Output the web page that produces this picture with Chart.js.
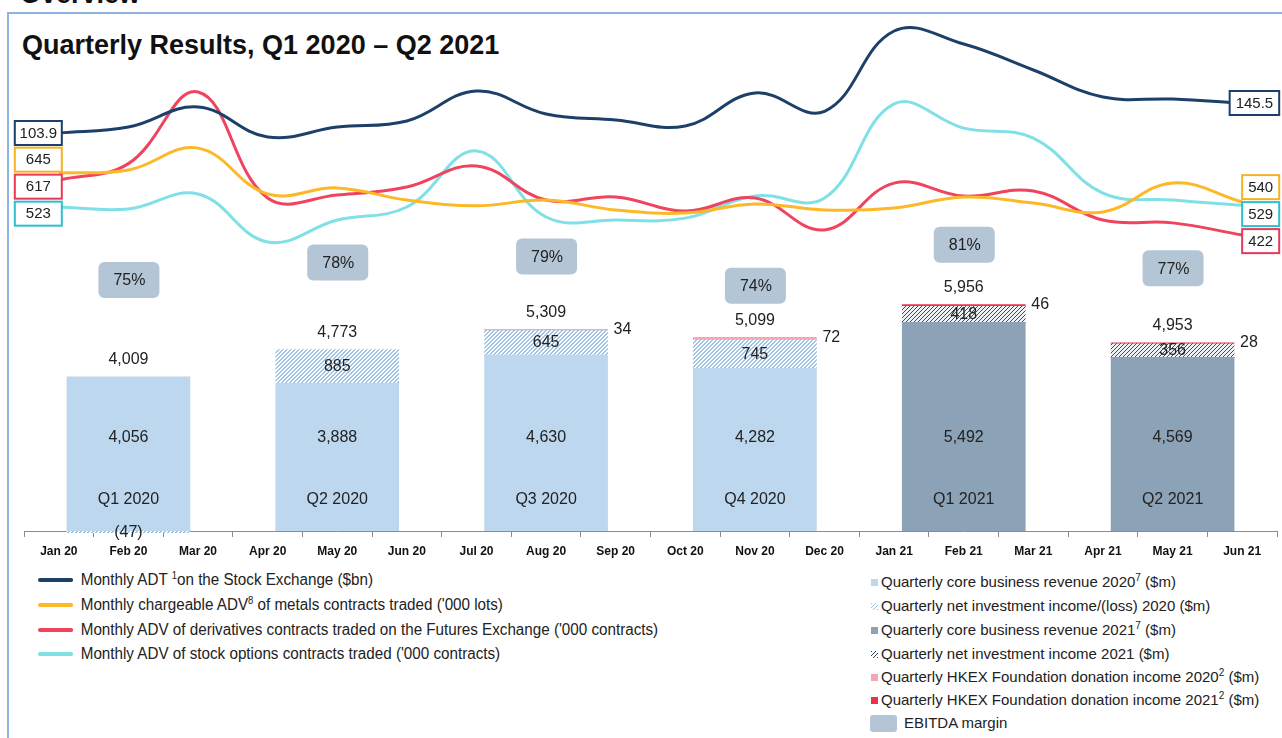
<!DOCTYPE html>
<html>
<head>
<meta charset="utf-8">
<script src="https://cdn.jsdelivr.net/npm/chart.js@4.4.1/dist/chart.umd.min.js"></script>
<style>
  html, body { margin: 0; padding: 0; background: #fff; width: 1282px; height: 738px; overflow: hidden; }
  body { font-family: 'Liberation Sans', Arial, sans-serif; color: #222; position: relative; }
  #frame { position: absolute; left: 7px; top: 12px; width: 1300px; height: 760px; border-left: 2px solid #8db3e2; border-top: 2px solid #8db3e2; }
  #overview { position: absolute; left: 20px; top: -19px; font: bold 27px/1 'Liberation Sans', Arial, sans-serif; color: #111; }
  #title { position: absolute; left: 22px; top: 32px; font: bold 27px/1 'Liberation Sans', Arial, sans-serif; color: #111; }
  #chartBox { position: absolute; left: 0; top: 0; width: 1282px; height: 567px; }
  .row { position: absolute; height: 20px; line-height: 20px; white-space: nowrap; }
  .left { left: 38px; font-size: 16px; transform: scaleX(0.95); transform-origin: 0 0; }
  .right { left: 871px; font-size: 15px; }
  .ln { display: inline-block; width: 37px; height: 4px; border-radius: 2px; vertical-align: middle; margin-right: 8px; position: relative; top: -1px; }
  .sq { display: inline-block; width: 7px; height: 7px; vertical-align: middle; margin-right: 3px; position: relative; top: -1px; }
  sup { font-size: 10px; vertical-align: 6px; line-height: 0; }
</style>
</head>
<body>
<div id="frame"></div>
<div id="overview">Overview</div>
<div id="title">Quarterly Results, Q1 2020 – Q2 2021</div>
<div id="chartBox"><canvas id="myChart" width="1282" height="567"></canvas></div>

<div class="row left" style="top:570px"><span class="ln" style="background:#1c4068"></span>Monthly ADT <sup>1</sup>on the Stock Exchange ($bn)</div>
<div class="row left" style="top:595px"><span class="ln" style="background:#fdb827"></span>Monthly chargeable ADV<sup>8</sup> of metals contracts traded ('000 lots)</div>
<div class="row left" style="top:620px"><span class="ln" style="background:#f0435e"></span>Monthly ADV of derivatives contracts traded on the Futures Exchange ('000 contracts)</div>
<div class="row left" style="top:644px"><span class="ln" style="background:#7fe0e6"></span>Monthly ADV of stock options contracts traded ('000 contracts)</div>

<div class="row right" style="top:572px"><span class="sq" style="background:#bdd7ee"></span>Quarterly core business revenue 2020<sup>7</sup> ($m)</div>
<div class="row right" style="top:596px"><span class="sq" style="background:repeating-linear-gradient(135deg,#9ec5ea 0 1px,#fff 1px 3px)"></span>Quarterly net investment income/(loss) 2020 ($m)</div>
<div class="row right" style="top:620px"><span class="sq" style="background:#8ba2b7"></span>Quarterly core business revenue 2021<sup>7</sup> ($m)</div>
<div class="row right" style="top:644px"><span class="sq" style="background:repeating-linear-gradient(135deg,#2c4563 0 1px,#fff 1px 3px)"></span>Quarterly net investment income 2021 ($m)</div>
<div class="row right" style="top:667px"><span class="sq" style="background:#f4a7b1"></span>Quarterly HKEX Foundation donation income 2020<sup>2</sup> ($m)</div>
<div class="row right" style="top:690px"><span class="sq" style="background:#e8334d"></span>Quarterly HKEX Foundation donation income 2021<sup>2</sup> ($m)</div>
<div class="row right" style="top:713px; left:870px"><span style="display:inline-block;width:27px;height:17px;border-radius:3px;background:#b4c6d6;vertical-align:middle;margin-right:7px;position:relative;top:-1px"></span>EBITDA margin</div>

<script>
// monthly series
const months = ['Jan 20', 'Feb 20', 'Mar 20', 'Apr 20', 'May 20', 'Jun 20', 'Jul 20', 'Aug 20', 'Sep 20',
                'Oct 20', 'Nov 20', 'Dec 20', 'Jan 21', 'Feb 21', 'Mar 21', 'Apr 21', 'May 21', 'Jun 21'];
const adt        = [103.9, 112.2, 140.0, 98.4, 112.2, 120.5, 162.2, 130.3, 121.9, 113.6, 159.4, 134.0, 245.4, 227.3, 191.3, 153.8, 151.0, 145.5];
const metalsAdv  = [645, 656, 735, 569, 591, 547, 526, 547, 511, 500, 533, 511, 518, 558, 536, 504, 609, 540];
const derivAdv   = [617, 675, 929, 553, 564, 592, 667, 546, 557, 507, 553, 440, 606, 560, 578, 475, 465, 422];
const optionsAdv = [523, 516, 570, 397, 476, 523, 725, 487, 476, 483, 563, 555, 894, 807, 771, 573, 548, 529];

// quarterly results
const quarters      = ['Q1 2020', 'Q2 2020', 'Q3 2020', 'Q4 2020', 'Q1 2021', 'Q2 2021'];
const quarterMonths = ['Feb 20', 'May 20', 'Aug 20', 'Nov 20', 'Feb 21', 'May 21'];
const quarterYear   = [2020, 2020, 2020, 2020, 2021, 2021];
const coreRevenue   = [4056, 3888, 4630, 4282, 5492, 4569];
const netInvestment = [-47, 885, 645, 745, 418, 356];
const donation      = [0, 0, 34, 72, 46, 28];
const ebitdaMargin  = [75, 78, 79, 74, 81, 77];

// plot area in pixels, used to fit each hidden axis to the picture
const TOP = 20, BOTTOM = 531;
function fitAxis(anchorVal, anchorPx, perPx) {
  const min = anchorVal - (BOTTOM - anchorPx) * perPx;
  return { min: min, max: min + (BOTTOM - TOP) * perPx };
}
const BAR_W = 123;

// diagonal hatching drawn pixel by pixel; "thick" makes each stripe 2px wide
function hatch(lineColor, bg, thick) {
  const c = document.createElement('canvas');
  c.width = 4; c.height = 4;
  const g = c.getContext('2d');
  g.fillStyle = bg;
  g.fillRect(0, 0, 4, 4);
  g.fillStyle = lineColor;
  for (let x = 0; x < 4; x++) {
    for (let y = 0; y < 4; y++) {
      const s = (x + y) % 4;
      if (s === 3 || (thick && s === 0)) g.fillRect(x, y, 1, 1);
    }
  }
  return document.getElementById('myChart').getContext('2d').createPattern(c, 'repeat');
}

// zero entries are left out so no empty segment is drawn
function forYear(arr, yr) {
  return quarterMonths.map((m, i) => ({ x: m, y: quarterYear[i] === yr && arr[i] !== 0 ? arr[i] : null }));
}

function lineSet(label, data, color, boxColor, axis) {
  return { type: 'line', label: label, data: data, yAxisID: axis, borderColor: color, boxColor: boxColor,
           borderWidth: 3, pointRadius: 0, tension: 0.4, fill: false };
}
function barSet(label, data, color, extra) {
  return Object.assign({ type: 'bar', label: label, data: data, yAxisID: 'yBar', stack: 'q',
           backgroundColor: color, hoverBackgroundColor: color, borderWidth: 0, barThickness: BAR_W }, extra || {});
}

function roundRect(ctx, x, y, w, h, r) {
  ctx.beginPath();
  ctx.moveTo(x + r, y);
  ctx.arcTo(x + w, y, x + w, y + h, r);
  ctx.arcTo(x + w, y + h, x, y + h, r);
  ctx.arcTo(x, y + h, x, y, r);
  ctx.arcTo(x, y, x + w, y, r);
  ctx.closePath();
}

// pushes overlapping end labels apart, keeping each group centred
function spread(items, gap) {
  items.sort((a, b) => a.y - b.y);
  let groups = items.map(it => ({ items: [it], c: it.y }));
  let changed = true;
  while (changed) {
    changed = false;
    for (let k = 0; k < groups.length - 1; k++) {
      const a = groups[k], b = groups[k + 1];
      const aEnd = a.c + (a.items.length - 1) * gap / 2;
      const bStart = b.c - (b.items.length - 1) * gap / 2;
      if (bStart - aEnd < gap - 0.5) {
        const its = a.items.concat(b.items);
        groups.splice(k, 2, { items: its, c: its.reduce((s, it) => s + it.y, 0) / its.length });
        changed = true;
        break;
      }
    }
  }
  groups.forEach(g => g.items.forEach((it, j) => { it.ly = g.c + (j - (g.items.length - 1) / 2) * gap; }));
}

const fmt = n => n.toLocaleString('en-US');

const labelPlugin = {
  id: 'labels',
  afterDatasetsDraw(chart) {
    const ctx = chart.ctx, xs = chart.scales.x, yb = chart.scales.yBar, ye = chart.scales.yE;
    const area = chart.chartArea;
    ctx.save();
    ctx.textAlign = 'center';
    ctx.textBaseline = 'middle';
    ctx.font = '16px "Liberation Sans", Arial, sans-serif';
    quarters.forEach((q, i) => {
      const x = xs.getPixelForValue(months.indexOf(quarterMonths[i]));
      const core = coreRevenue[i], inv = netInvestment[i], don = donation[i];
      const yTop = yb.getPixelForValue(core + Math.max(inv, 0) + don);
      const ey = ye.getPixelForValue(ebitdaMargin[i]);
      ctx.fillStyle = '#b4c6d6';
      roundRect(ctx, x - 30, ey - 18, 61, 36, 6);
      ctx.fill();
      ctx.fillStyle = '#222';
      ctx.fillText(ebitdaMargin[i] + '%', x + 1, ey + 1);
      ctx.fillText(fmt(core + inv + don), x, yTop - 17);
      ctx.fillText(fmt(core), x, area.bottom - 93);
      ctx.fillText(q, x, area.bottom - 31);
      if (inv > 0) ctx.fillText(fmt(inv), x, yb.getPixelForValue(core + inv / 2));
      else ctx.fillText('(' + fmt(-inv) + ')', x, area.bottom + 2);
      if (don > 0) {
        ctx.textAlign = 'left';
        ctx.fillText(String(don), x + BAR_W / 2 + 6, yTop);
        ctx.textAlign = 'center';
      }
    });

    const left = [], right = [];
    chart.data.datasets.forEach((d, k) => {
      if (d.type !== 'line') return;
      const pts = chart.getDatasetMeta(k).data;
      const n = d.data.length - 1;
      left.push({ x: pts[0].x, y: pts[0].y, text: String(d.data[0]), color: d.boxColor });
      right.push({ x: pts[n].x, y: pts[n].y, text: String(d.data[n]), color: d.boxColor });
    });
    spread(left, 27);
    spread(right, 27);
    ctx.font = '15px "Liberation Sans", Arial, sans-serif';
    ctx.lineWidth = 2;
    const box = (bx, by, w, b) => {
      ctx.fillStyle = '#fff';
      ctx.fillRect(bx, by, w, 24);
      ctx.strokeStyle = b.color;
      ctx.strokeRect(bx, by, w, 24);
      ctx.fillStyle = '#222';
      ctx.fillText(b.text, bx + w / 2, by + 12.5);
    };
    left.forEach(b => box(b.x + 3 - 47, b.ly - 12, 47, b));
    right.forEach(b => {
      const w = Math.max(37, ctx.measureText(b.text).width + 12);
      box(b.x + 37 - w, b.ly - 12, w, b);
    });
    ctx.restore();
  }
};

const hidden = o => Object.assign({ display: false, grid: { display: false } }, o);

const ctx = document.getElementById('myChart').getContext('2d');
const myChart = new Chart(ctx, {
  type: 'bar',
  data: {
    labels: months,
    datasets: [
      lineSet('Monthly ADT on the Stock Exchange ($bn)', adt, '#1c4068', '#1c4068', 'yAdt'),
      lineSet("Monthly chargeable ADV of metals contracts traded ('000 lots)", metalsAdv, '#fdb827', '#f5b324', 'yMet'),
      lineSet("Monthly ADV of derivatives contracts traded on the Futures Exchange ('000 contracts)", derivAdv, '#f0435e', '#e8395a', 'yDer'),
      lineSet("Monthly ADV of stock options contracts traded ('000 contracts)", optionsAdv, '#7fe0e6', '#2ebfcc', 'yOpt'),
      barSet('Quarterly core business revenue 2020 ($m)', forYear(coreRevenue, 2020), '#bdd7ee'),
      barSet('Quarterly net investment income/(loss) 2020 ($m)', forYear(netInvestment, 2020), hatch('#9fc4e8', '#ffffff', true), { clip: false }),
      barSet('Quarterly HKEX Foundation donation income 2020 ($m)', forYear(donation, 2020), '#f4a7b1'),
      barSet('Quarterly core business revenue 2021 ($m)', forYear(coreRevenue, 2021), '#8ba2b7'),
      barSet('Quarterly net investment income 2021 ($m)', forYear(netInvestment, 2021), hatch('#34506f', '#eef1f4', false)),
      barSet('Quarterly HKEX Foundation donation income 2021 ($m)', forYear(donation, 2021), '#e8334d')
    ]
  },
  options: {
    responsive: false,
    animation: false,
    layout: { padding: { left: 24, right: 5, top: TOP, bottom: 1.6 } },
    plugins: { legend: { display: false }, title: { display: false }, tooltip: { enabled: false } },
    scales: {
      x: {
        offset: true,
        grid: { offset: true, drawOnChartArea: false, drawTicks: true, tickLength: 6, color: '#8c8c8c' },
        border: { display: true, color: '#8c8c8c', width: 1 },
        ticks: { autoSkip: false, maxRotation: 0, padding: 7, color: '#111',
                 font: { family: "'Liberation Sans', Arial, sans-serif", size: 12, weight: 'bold' } }
      },
      yBar: hidden(Object.assign({ position: 'left' }, fitAxis(0, BOTTOM, 1 / 0.038))),
      yAdt: hidden(fitAxis(103.9, 133, 1.387)),
      yMet: hidden(fitAxis(645, 173, 3.62)),
      yDer: hidden(fitAxis(617, 180, 3.545)),
      yOpt: hidden(fitAxis(523, 207, 3.6)),
      yE: hidden(fitAxis(77.33, 266.3, 1 / 5.84))
    }
  },
  plugins: [labelPlugin]
});
</script>
</body>
</html>
